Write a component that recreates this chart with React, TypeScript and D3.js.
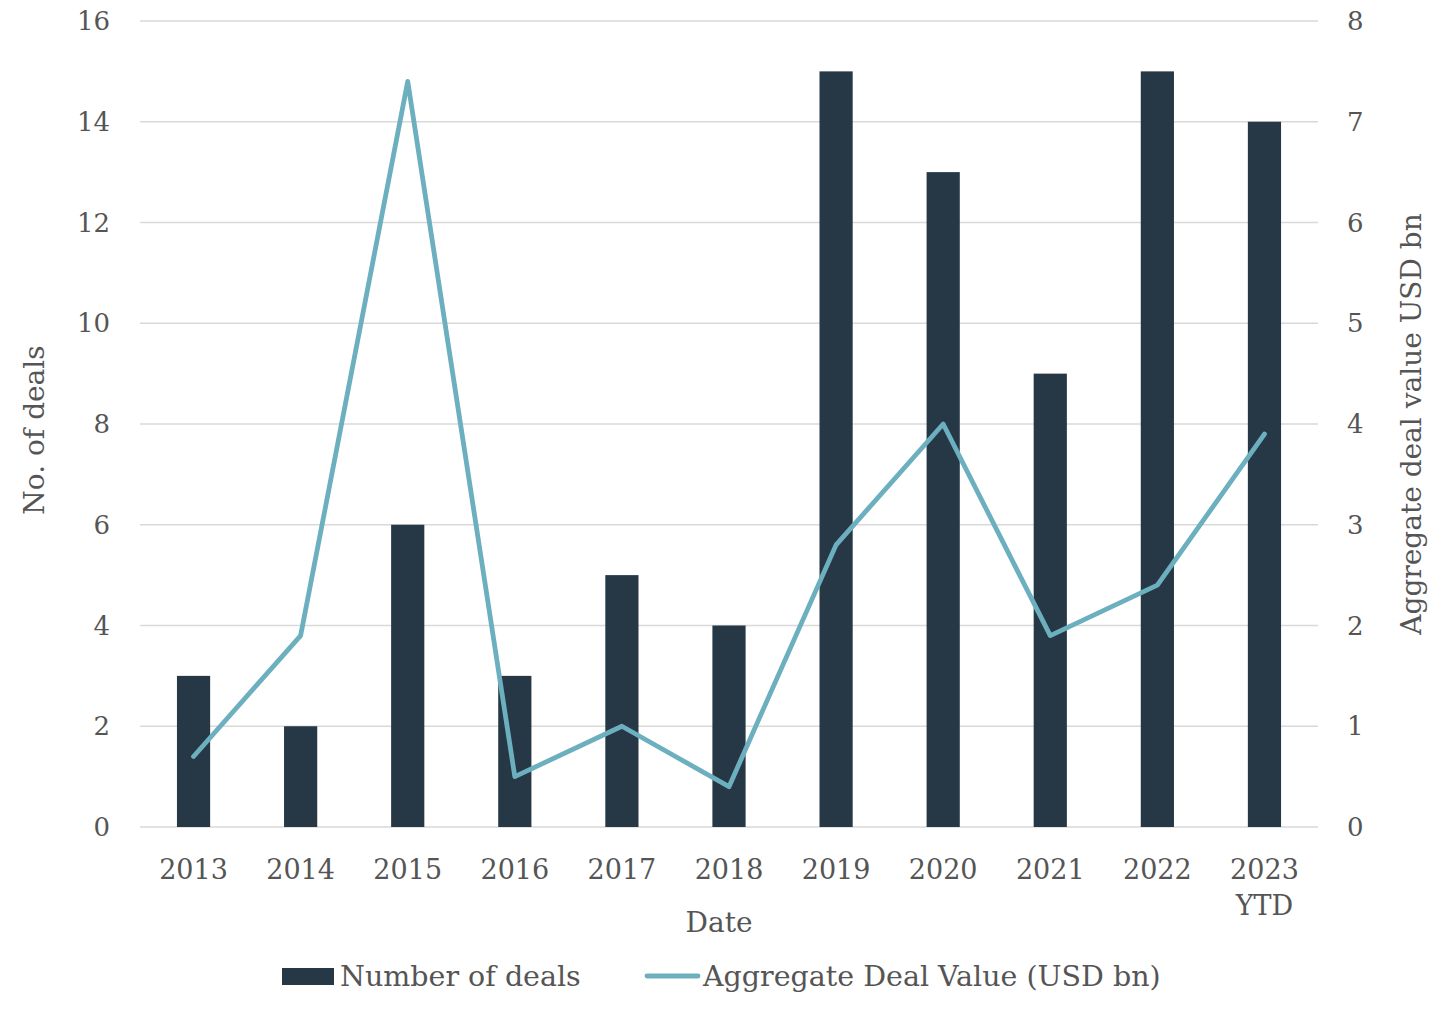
import { useEffect, useRef } from 'react';
import * as d3 from 'd3';

const years = ['2013', '2014', '2015', '2016', '2017', '2018', '2019', '2020', '2021', '2022', '2023\nYTD'];
const dealCounts = [3, 2, 6, 3, 5, 4, 15, 13, 9, 15, 14];
const dealValues = [0.7, 1.9, 7.4, 0.5, 1.0, 0.4, 2.8, 4.0, 1.9, 2.4, 3.9];
const leftTicks = [0, 2, 4, 6, 8, 10, 12, 14, 16];
const rightTicks = [0, 1, 2, 3, 4, 5, 6, 7, 8];

export default function App() {
  const svgRef = useRef<SVGSVGElement>(null);

  useEffect(() => {
    if (!svgRef.current) return;
    const svg = d3.select(svgRef.current);
    svg.selectAll('*').remove();

    const width = 1440;
    const height = 1023;
    const left = 140;
    const right = 1318;
    const top = 21;
    const bottom = 827;
    const font = "'DejaVu Serif', 'Liberation Serif', serif";
    const textColor = '#555555';
    const barColor = '#263746';
    const lineColor = '#6cafbe';

    svg.attr('width', width).attr('height', height);

    const x = d3.scaleBand<string>().domain(years).range([left, right]).paddingInner(0.69).paddingOuter(0.345);
    const yL = d3.scaleLinear().domain([0, 16]).range([bottom, top]);
    const yR = d3.scaleLinear().domain([0, 8]).range([bottom, top]);

    const g = svg.append('g');

    // gridlines
    g.selectAll('line.grid')
      .data(leftTicks)
      .join('line')
      .attr('x1', left)
      .attr('x2', right)
      .attr('y1', (d) => yL(d))
      .attr('y2', (d) => yL(d))
      .attr('stroke', '#d9d9d9')
      .attr('stroke-width', 1.5);

    // bars
    g.selectAll('rect.bar')
      .data(dealCounts)
      .join('rect')
      .attr('x', (_, i) => x(years[i])!)
      .attr('width', x.bandwidth())
      .attr('y', (d) => yL(d))
      .attr('height', (d) => bottom - yL(d))
      .attr('fill', barColor);

    // line
    const line = d3.line<number>()
      .x((_, i) => x(years[i])! + x.bandwidth() / 2)
      .y((d) => yR(d));
    g.append('path')
      .attr('d', line(dealValues)!)
      .attr('fill', 'none')
      .attr('stroke', lineColor)
      .attr('stroke-width', 4.8)
      .attr('stroke-linejoin', 'round')
      .attr('stroke-linecap', 'round');

    // left ticks
    g.selectAll('text.lt')
      .data(leftTicks)
      .join('text')
      .attr('x', 110)
      .attr('y', (d) => yL(d))
      .attr('dy', '0.35em')
      .attr('text-anchor', 'end')
      .attr('fill', textColor)
      .attr('font-family', font)
      .attr('font-size', 26)
      .text((d) => d);

    // right ticks
    g.selectAll('text.rt')
      .data(rightTicks)
      .join('text')
      .attr('x', 1347)
      .attr('y', (d) => yR(d))
      .attr('dy', '0.35em')
      .attr('text-anchor', 'start')
      .attr('fill', textColor)
      .attr('font-family', font)
      .attr('font-size', 26)
      .text((d) => d);

    // x labels
    years.forEach((yr) => {
      const cx = x(yr)! + x.bandwidth() / 2;
      const t = g.append('text')
        .attr('x', cx)
        .attr('y', 879)
        .attr('text-anchor', 'middle')
        .attr('fill', textColor)
        .attr('font-family', font)
        .attr('font-size', 27);
      yr.split('\n').forEach((part, j) => {
        t.append('tspan')
          .attr('x', cx)
          .attr('dy', j === 0 ? 0 : 36)
          .text(part);
      });
    });

    // axis titles
    g.append('text')
      .attr('x', 719)
      .attr('y', 932)
      .attr('text-anchor', 'middle')
      .attr('fill', textColor)
      .attr('font-family', font)
      .attr('font-size', 28)
      .text('Date');

    g.append('text')
      .attr('transform', `translate(44, ${(top + bottom) / 2 + 6}) rotate(-90)`)
      .attr('text-anchor', 'middle')
      .attr('fill', textColor)
      .attr('font-family', font)
      .attr('font-size', 28)
      .text('No. of deals');

    g.append('text')
      .attr('transform', `translate(1421, ${(top + bottom) / 2}) rotate(-90)`)
      .attr('text-anchor', 'middle')
      .attr('fill', textColor)
      .attr('font-family', font)
      .attr('font-size', 28)
      .text('Aggregate deal value USD bn');

    // legend
    g.append('rect')
      .attr('x', 282)
      .attr('y', 968)
      .attr('width', 52)
      .attr('height', 17)
      .attr('fill', barColor);
    g.append('text')
      .attr('x', 340)
      .attr('y', 986)
      .attr('fill', textColor)
      .attr('font-family', font)
      .attr('font-size', 28.5)
      .text('Number of deals');
    g.append('line')
      .attr('x1', 647)
      .attr('x2', 698)
      .attr('y1', 976)
      .attr('y2', 976)
      .attr('stroke', lineColor)
      .attr('stroke-width', 4.8)
      .attr('stroke-linecap', 'round');
    g.append('text')
      .attr('x', 703)
      .attr('y', 986)
      .attr('fill', textColor)
      .attr('font-family', font)
      .attr('font-size', 28.5)
      .text('Aggregate Deal Value (USD bn)');
  }, []);

  return (
    <svg
      ref={svgRef}
      style={{ position: 'absolute', left: 0, top: 0, background: '#fff' }}
    />
  );
}
